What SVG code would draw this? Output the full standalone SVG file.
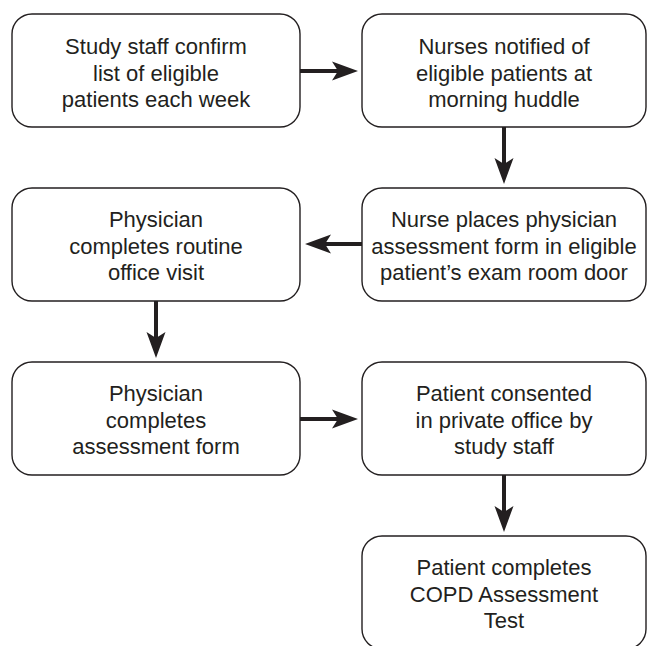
<svg xmlns="http://www.w3.org/2000/svg" width="648" height="646" viewBox="0 0 648 646">
<style>
.box{fill:#fff;stroke:#231f20;stroke-width:1.4}
.t{font-family:"Liberation Sans",Arial,sans-serif;font-size:22px;fill:#231f20;text-anchor:middle}
.c{stroke:#231f20;stroke-width:4;fill:none}
</style>
<defs>
<marker id="ah" markerUnits="userSpaceOnUse" markerWidth="28" markerHeight="22" viewBox="-27 -11 28 22" refX="-20" refY="0" orient="auto">
<path d="M0,0 L-26,-9.5 L-20,0 L-26,9.5 Z" fill="#231f20"/>
</marker>
</defs>
<rect width="648" height="646" fill="#fff"/>
<g id="connectors">
<line class="c" x1="300" y1="71" x2="338" y2="71" marker-end="url(#ah)"/>
<line class="c" x1="504" y1="127" x2="504" y2="164" marker-end="url(#ah)"/>
<line class="c" x1="362" y1="244" x2="325" y2="244" marker-end="url(#ah)"/>
<line class="c" x1="156" y1="301" x2="156" y2="338" marker-end="url(#ah)"/>
<line class="c" x1="300" y1="419" x2="338" y2="419" marker-end="url(#ah)"/>
<line class="c" x1="504" y1="475" x2="504" y2="512" marker-end="url(#ah)"/>
</g>
<g id="n1">
<rect class="box" x="12" y="14" width="288" height="113" rx="20"/>
<text class="t" x="156"><tspan x="156" y="54">Study staff confirm</tspan><tspan x="156" y="80.5">list of eligible</tspan><tspan x="156" y="107">patients each week</tspan></text>
</g>
<g id="n2">
<rect class="box" x="362" y="14" width="284" height="113" rx="20"/>
<text class="t"><tspan x="504" y="54">Nurses notified of</tspan><tspan x="504" y="80.5">eligible patients at</tspan><tspan x="504" y="107">morning huddle</tspan></text>
</g>
<g id="n3">
<rect class="box" x="362" y="188" width="284" height="113" rx="20"/>
<text class="t"><tspan x="504" y="227">Nurse places physician</tspan><tspan x="504" y="253.5">assessment form in eligible</tspan><tspan x="504" y="280">patient’s exam room door</tspan></text>
</g>
<g id="n4">
<rect class="box" x="12" y="188" width="288" height="113" rx="20"/>
<text class="t"><tspan x="156" y="227">Physician</tspan><tspan x="156" y="253.5">completes routine</tspan><tspan x="156" y="280">office visit</tspan></text>
</g>
<g id="n5">
<rect class="box" x="12" y="362" width="288" height="113" rx="20"/>
<text class="t"><tspan x="156" y="401">Physician</tspan><tspan x="156" y="427.5">completes</tspan><tspan x="156" y="454">assessment form</tspan></text>
</g>
<g id="n6">
<rect class="box" x="362" y="362" width="284" height="113" rx="20"/>
<text class="t"><tspan x="504" y="401">Patient consented</tspan><tspan x="504" y="427.5">in private office by</tspan><tspan x="504" y="454">study staff</tspan></text>
</g>
<g id="n7">
<rect class="box" x="362" y="536" width="284" height="113" rx="20"/>
<text class="t"><tspan x="504" y="575">Patient completes</tspan><tspan x="504" y="601.5">COPD Assessment</tspan><tspan x="504" y="628">Test</tspan></text>
</g>
</svg>
